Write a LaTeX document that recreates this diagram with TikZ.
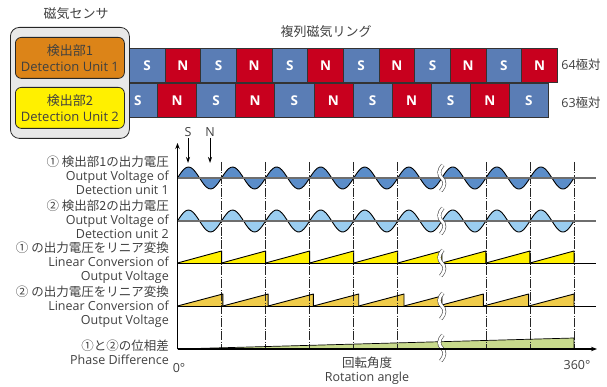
\documentclass[tikz,border=0pt]{standalone}
\usepackage{fontspec}
\setmainfont{Open Sans}
\newfontfamily\jp{Noto Sans CJK JP}
\usetikzlibrary{arrows.meta}
\definecolor{txt}{HTML}{404040}
\definecolor{boxgray}{HTML}{E8E8E8}
\definecolor{detor}{HTML}{DC8418}
\definecolor{detye}{HTML}{FFF000}
\definecolor{sblue}{HTML}{5A7DB5}
\definecolor{nred}{HTML}{C8001E}
\definecolor{wblue}{HTML}{5B8DC9}
\definecolor{wlight}{HTML}{9ACDF0}
\definecolor{sawone}{HTML}{FFF000}
\definecolor{sawtwo}{HTML}{F0CC4A}
\definecolor{phgreen}{HTML}{C8DA8C}
\definecolor{basegray}{HTML}{6E6E6E}
\tikzset{
 lbl/.style={anchor=east, align=right, inner sep=0pt, text=txt, font=\fontsize{12.5}{14}\selectfont},
 txtn/.style={inner sep=0pt, text=txt, align=center, font=\fontsize{12.5}{14}\selectfont},
 titlen/.style={inner sep=0pt, text=txt, align=center, font=\fontsize{13}{15}\selectfont},
 cell/.style={draw=black!80, line width=0.7pt, anchor=north west, text=white, inner sep=0pt,
   font=\fontsize{13.5}{15}\selectfont\bfseries},
 detbox/.style={draw=black!85, line width=0.8pt, rounded corners=6pt, anchor=north west,
   minimum width=109pt, minimum height=41pt, inner sep=0pt, align=center, text=txt,
   font=\fontsize{13}{16}\selectfont},
 vl/.style={draw=black!85, line width=0.7pt, dash pattern=on 9pt off 1.5pt on 1pt off 1.5pt},
 outl/.style={draw=black, line width=0.9pt, line join=round},
 brk/.style={draw=black!70, line width=0.6pt, double=white, double distance=2.6pt},
 axisline/.style={draw=black, line width=1.1pt, -{Stealth[length=6pt,width=4.5pt]}},
 pointer/.style={draw=black, line width=0.8pt, -{Stealth[length=6pt,width=4pt]}},
 wavebase/.style={draw=basegray, line width=1.4pt},
 sawbase/.style={draw=black, line width=0.8pt},
}
\begin{document}
\begin{tikzpicture}[x=1pt,y=-1pt]
\useasboundingbox (0,0) rectangle (607,387);

% ---------- ring rows ----------
\foreach \i in {0,2,...,10}
  \node[cell, fill=sblue, minimum width=35.67pt, minimum height=34.5pt] (ra\i) at ({129+\i*35.67},48) {S};
\foreach \i in {1,3,...,11}
  \node[cell, fill=nred, minimum width=35.67pt, minimum height=34.5pt] (ra\i) at ({129+\i*35.67},48) {N};
\foreach \i in {0,2,...,10}
  \node[cell, fill=sblue, minimum width=39.1pt, minimum height=34.5pt] (rb\i) at ({118+\i*39.1},83) {S};
\foreach \i in {1,3,...,9}
  \node[cell, fill=nred, minimum width=39.1pt, minimum height=34.5pt] (rb\i) at ({118+\i*39.1},83) {N};

% ---------- sensor ----------
\node[draw=black!85, line width=0.8pt, fill=boxgray, rounded corners=9pt, anchor=north west,
      minimum width=119pt, minimum height=111pt, inner sep=0pt] (sensor) at (10,27) {};
\node[detbox, fill=detor] (det1) at (15,37) {{\jp 検出部1}\\Detection Unit 1};
\node[detbox, fill=detye] (det2) at (15,87) {{\jp 検出部2}\\Detection Unit 2};

\node[titlen] (sensorlbl) at (76,14) {\jp 磁気センサ};
\node[titlen] (ringlbl) at (326,32) {\jp 複列磁気リング};
\node[txtn] (p64) at (581,65) {64{\jp 極対}};
\node[txtn] (p63) at (581,103) {63{\jp 極対}};

% ---------- fills ----------
\foreach \a/\b in {177.5/441.8, 441.8/573.95} {
  \fill[wblue] (\a,178) -- plot[domain=\a:\b, samples=120] (\x,{178-11*sin((\x-177.5)/44.05*360)}) -- (\b,178) -- cycle;
  \fill[wlight] (\a,221) -- plot[domain=\a:\b, samples=120] (\x,{221-11*sin((\x-177.5)/44.05*360)}) -- (\b,221) -- cycle;
}
\foreach \k in {0,...,8}
  \fill[sawone] ({177.5+\k*44.05},263) -- ({177.5+(\k+1)*44.05},251) -- ({177.5+(\k+1)*44.05},263) -- cycle;
\foreach \a/\b/\ha/\hb in {177.5/222.8/0/12, 222.8/268.1/0/12, 268.1/313.4/0/12, 313.4/358.7/0/12,
    358.7/404/0/12, 404/441.8/0/10, 441.8/483.35/1/12, 483.35/528.65/0/12, 528.65/573.95/0/12}
  \fill[sawtwo] (\a,{306-\ha}) -- (\b,{306-\hb}) -- (\b,306) -- (\a,306) -- cycle;
\fill[phgreen] (177.5,349) -- (573.95,338) -- (573.95,349) -- cycle;

% ---------- vertical dash-dot lines ----------
\foreach \k in {1,2,3,4,5,7,8,9}
  \draw[vl] ({177.5+\k*44.05},162) -- ({177.5+\k*44.05},349);

% ---------- outlines ----------
\foreach \a/\b in {177.5/441.8, 441.8/573.95} {
  \draw[outl] plot[domain=\a:\b, samples=120] (\x,{178-11*sin((\x-177.5)/44.05*360)});
  \draw[outl] plot[domain=\a:\b, samples=120] (\x,{221-11*sin((\x-177.5)/44.05*360)});
}
\foreach \k in {0,...,8}
  \draw[outl] ({177.5+\k*44.05},263) -- ({177.5+(\k+1)*44.05},251) -- ({177.5+(\k+1)*44.05},263);
\foreach \a/\b/\ha/\hb in {177.5/222.8/0/12, 222.8/268.1/0/12, 268.1/313.4/0/12, 313.4/358.7/0/12,
    358.7/404/0/12, 404/441.8/0/10, 441.8/483.35/1/12, 483.35/528.65/0/12, 528.65/573.95/0/12}
  \draw[outl] (\a,{306-\ha}) -- (\b,{306-\hb}) -- (\b,306);
\draw[outl, line width=0.7pt] (177.5,349) -- (573.95,338) -- (573.95,349);

% ---------- baselines ----------
\draw[wavebase] (177.5,178) -- (596,178);
\draw[wavebase] (177.5,221) -- (596,221);
\draw[sawbase] (177.5,263) -- (596,263);
\draw[sawbase] (177.5,306) -- (596,306);

% ---------- break marks ----------
\foreach \yb in {178,221,263,306,348}
  \draw[brk] (442.8,{\yb-13}) .. controls (438.3,{\yb-8}) and (438.3,{\yb-3}) .. (441.8,\yb)
             .. controls (445.3,{\yb+3}) and (445.3,{\yb+8}) .. (440.8,{\yb+13});

% ---------- axes ----------
\coordinate (O) at (177.5,349);
\coordinate (ytop) at (177.5,143);
\coordinate (xend) at (597,349);
\draw[axisline] (O) -- (ytop);
\draw[axisline] (O) -- (xend);

% ---------- S / N pointers ----------
\node[txtn] (ps) at (188,132) {S};
\node[txtn] (pn) at (210,132) {N};
\coordinate (psend) at (188,163);
\coordinate (pnend) at (210,163);
\draw[pointer] (ps.south) ++(0,1) -- (psend);
\draw[pointer] (pn.south) ++(0,1) -- (pnend);

% ---------- row labels ----------
\node[lbl] (l1) at (169,175) {{\jp ① 検出部1の出力電圧}\\Output Voltage of\\Detection unit 1};
\node[lbl] (l2) at (169,219) {{\jp ② 検出部2の出力電圧}\\Output Voltage of\\Detection unit 2};
\node[lbl] (l3) at (169,263) {{\jp ① の出力電圧をリニア変換}\\Linear Conversion of\\Output Voltage};
\node[lbl] (l4) at (169,306.5) {{\jp ② の出力電圧をリニア変換}\\Linear Conversion of\\Output Voltage};
\node[lbl] (l5) at (169,352) {{\jp ①と②の位相差}\\Phase Difference};

\node[txtn] (zero) at (179,368) {0°};
\node[txtn] (rot) at (367,371) {{\jp 回転角度}\\Rotation angle};
\node[txtn] (full) at (577,365) {360°};
\end{tikzpicture}
\end{document}
